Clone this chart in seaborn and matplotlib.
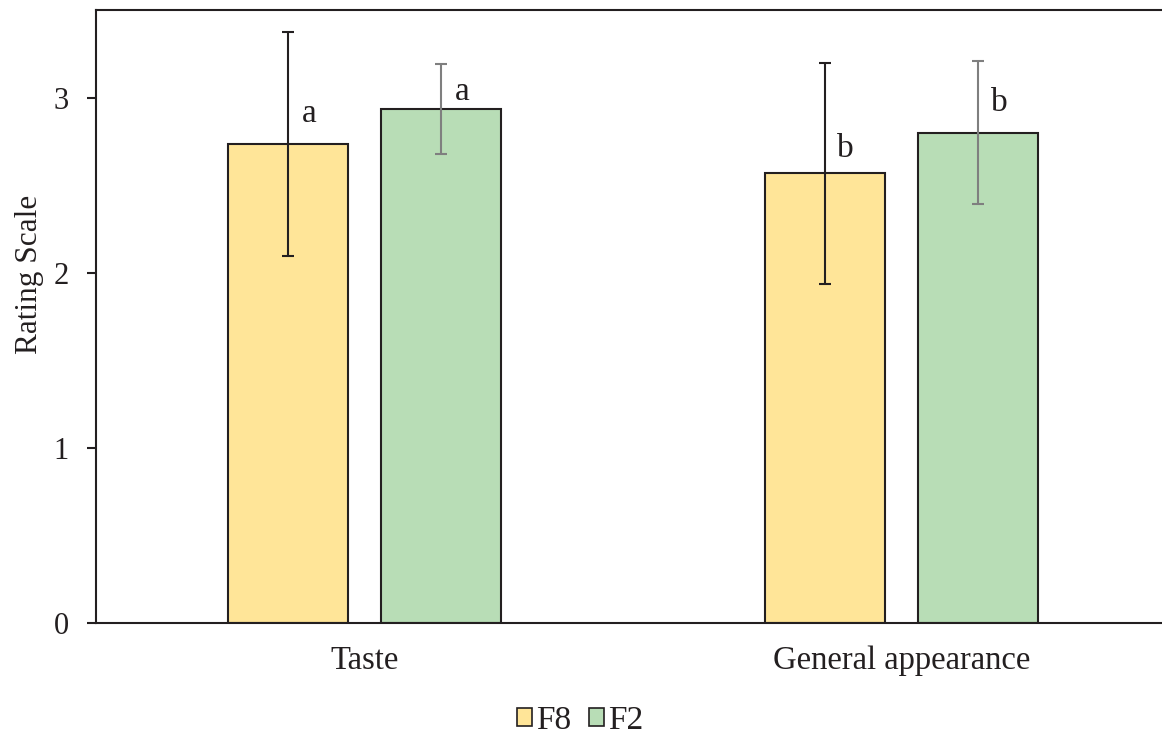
import matplotlib
matplotlib.use("Agg")
import matplotlib.pyplot as plt
import seaborn as sns
import pandas as pd
from matplotlib.patches import Patch

categories = ["Taste", "General appearance"]
series = ["F8", "F2"]
f8_values = [2.735, 2.567]
f2_values = [2.935, 2.800]
f8_err = [0.64, 0.63]
f2_err = [0.255, 0.41]
f8_letters = ["a", "b"]
f2_letters = ["a", "b"]
f8_letter_y = [2.858, 2.658]
f2_letter_y = [2.985, 2.926]
yticks = [0, 1, 2, 3]

colors = {"F8": "#FFE598", "F2": "#B8DDB6"}
err_colors = {"F8": "#231F20", "F2": "#7F7F7F"}

df = pd.DataFrame({
    "category": categories * 2,
    "series": ["F8"] * len(categories) + ["F2"] * len(categories),
    "value": f8_values + f2_values,
})

sns.set_theme(style="white")
plt.rcParams["font.family"] = ["Liberation Serif", "DejaVu Serif"]

fig = plt.figure(figsize=(11.62, 7.35), dpi=100)
ax = fig.add_axes([96 / 1162, (735 - 623) / 735, (1162 - 96) / 1162, (623 - 10) / 735])

sns.barplot(data=df, x="category", y="value", hue="series", order=categories,
            hue_order=series, palette=colors, saturation=1, width=0.57, gap=0.216,
            edgecolor="#231F20", linewidth=1.5, errorbar=None, legend=False, ax=ax)

errs = {"F8": f8_err, "F2": f2_err}
letters = {"F8": f8_letters, "F2": f2_letters}
letter_y = {"F8": f8_letter_y, "F2": f2_letter_y}
for s, cont in zip(series, ax.containers):
    xs = [b.get_x() + b.get_width() / 2 for b in cont]
    ys = [b.get_height() for b in cont]
    ax.errorbar(xs, ys, yerr=errs[s], fmt="none", ecolor=err_colors[s],
                elinewidth=1.5, capsize=4, capthick=1.5, zorder=5)
    for x, ly, t in zip(xs, letter_y[s], letters[s]):
        ax.annotate(t, (x, ly), xytext=(15, 0), textcoords="offset points",
                    ha="center", va="baseline", fontsize=24, color="#231F20")

ax.set_xlim(-0.5, 1.485)
ax.set_ylim(0, 3.5)
ax.set_yticks(yticks)
ax.set_yticklabels([str(v) for v in yticks])
ax.set_xlabel("")
ax.set_ylabel("Rating Scale", fontsize=22.5, color="#231F20")
ax.yaxis.set_label_coords(-0.049, 0.569)
ax.tick_params(axis="y", length=6.5, width=1.5, pad=13, labelsize=22,
               colors="#231F20", direction="out", left=True)
ax.tick_params(axis="x", length=0, pad=16, labelsize=23.5, colors="#231F20")

for side in ["left", "top", "bottom"]:
    ax.spines[side].set_visible(True)
    ax.spines[side].set_color("#231F20")
    ax.spines[side].set_linewidth(1.5)
ax.spines["right"].set_visible(False)

handles = [Patch(facecolor=colors[s], edgecolor="#231F20", linewidth=1.2) for s in series]
fig.legend(handles, series, loc="center", bbox_to_anchor=(580 / 1162, 1 - 721 / 735),
           ncol=2, frameon=False, fontsize=24, handlelength=0.45, handleheight=0.45,
           handletextpad=0.12, columnspacing=0.55, labelcolor="#231F20",
           borderpad=0, borderaxespad=0)

fig.savefig("out.png", dpi=100)
